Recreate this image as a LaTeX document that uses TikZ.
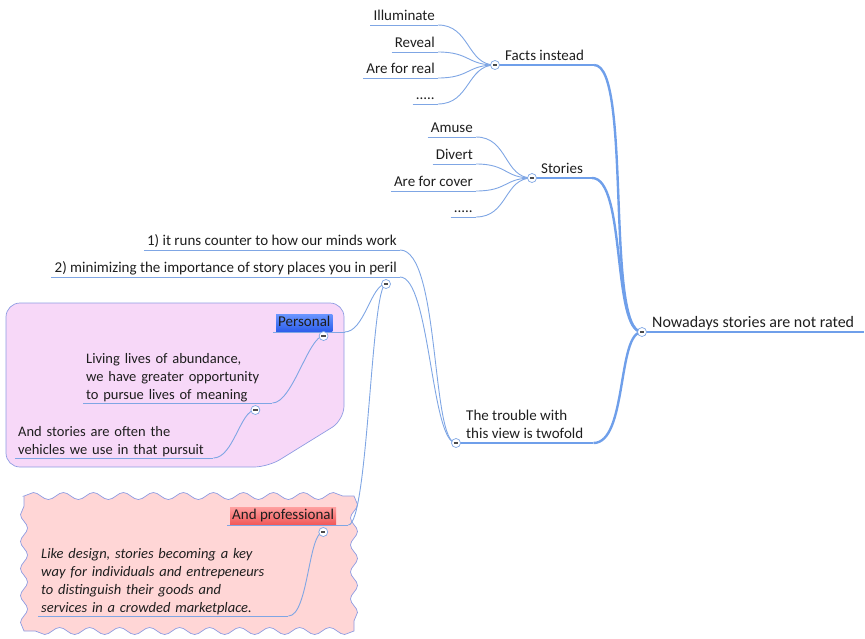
\documentclass[tikz,border=0pt]{standalone}
\usepackage{fontspec}
\setmainfont{Carlito}
\usetikzlibrary{decorations.pathmorphing}
\definecolor{branch}{HTML}{6F9FEA}
\definecolor{twig}{HTML}{7FA6E4}
\definecolor{ink}{HTML}{1E1E1E}
\definecolor{lilac}{HTML}{F7D8F8}
\definecolor{rose}{HTML}{FFD6D6}
\definecolor{rim}{HTML}{8E9CE2}
\definecolor{hiblue}{HTML}{6A95FF}
\definecolor{lowblue}{HTML}{2A5CEA}
\definecolor{hired}{HTML}{FF9E9E}
\definecolor{lowred}{HTML}{F05858}
\newcommand{\foldmark}{\rule{4.4pt}{1.1pt}}
\hyphenpenalty=10000

\begin{document}
\begin{tikzpicture}[x=1pt, y=-1pt]
\tikzstyle{every node}=[text=ink, font=\fontsize{15}{18}\selectfont]
\tikzset{twigline/.style={draw=twig, line width=0.9pt}}
\tikzset{branchline/.style={draw=branch, line width=2.4pt}}
\tikzset{twiglink/.style={twigline, out=0, in=180}}
\tikzset{branchlink/.style={branchline, out=0, in=180}}
\tikzset{topic/.style={inner xsep=3pt, inner ysep=1pt, text depth=3pt, align=left,
  append after command={(\tikzlastnode.south west) edge [#1] (\tikzlastnode.south east)}},
  topic/.default=twigline}
\tikzset{note/.style={topic, anchor=south west, text depth={}, font=\fontsize{14.5}{18}\selectfont}}
\tikzset{fold/.style={circle, draw=twig, fill=white, line width=0.7pt, minimum size=9pt, inner sep=0pt, text=ink!80}}
\tikzset{wave/.style={decoration={snake, segment length=#1, amplitude=3.5pt}}}
\useasboundingbox (0,0) rectangle (865,638);
% boundaries
\draw [fill=lilac, draw=rim, line width=0.7pt, rounded corners=14pt] (6,303) -- (344,303) -- (344,420) -- (268,467) -- (6,467) -- cycle;
\draw [fill=rose, draw=rim, line width=0.7pt] decorate [wave=30pt] {(24,496) -- (354,496)} decorate [wave=27pt] {-- (354,631)} decorate [wave=30pt] {-- (24,631)} decorate [wave=27pt] {-- (24,496)} -- cycle;
% central topic and main branches
\node [topic=branchline, anchor=south west, inner xsep=10pt, font=\fontsize{16}{19}\selectfont] (ROOT) at (642,332) {Nowadays stories are not rated};
\node [topic=branchline, anchor=south west, inner xsep=10pt] (FACTS) at (495,65) {Facts instead};
\node [topic=branchline, anchor=south west, inner xsep=9pt] (STORIES) at (532,178) {Stories};
\node [topic=branchline, anchor=south west, inner xsep=10pt] (TROUBLE) at (456,443) {The trouble with\\this view is twofold};
% leaves
\node [topic, anchor=south east] (ILLUMINATE) at (438,25) {Illuminate};
\node [topic, anchor=south east] (REVEAL) at (438,52) {Reveal};
\node [topic, anchor=south east] (REAL) at (438,78) {Are for real};
\node [topic, anchor=south east] (FACTSMORE) at (438,104) {.....};
\node [topic, anchor=south east] (AMUSE) at (476,137) {Amuse};
\node [topic, anchor=south east] (DIVERT) at (476,164) {Divert};
\node [topic, anchor=south east] (COVER) at (476,191) {Are for cover};
\node [topic, anchor=south east] (STORIESMORE) at (476,217) {.....};
\node [topic, anchor=south east] (COUNTER) at (400,250) {1) it runs counter to how our minds work};
\node [topic, anchor=south east] (PERIL) at (400,277) {2) minimizing the importance of story places you in peril};
\node [anchor=south west, inner xsep=2pt, inner ysep=1.5pt, text height=11pt, text depth=3.5pt, top color=hiblue, bottom color=lowblue] (PERSONAL) at (276,332) {Personal};
\node [note, text width=183pt] (LIVING) at (83,403) {Living lives of abundance,\\we have greater opportunity\\to pursue lives of meaning};
\node [note, text width=192pt] (VEHICLES) at (15,458) {And stories are often the\\vehicles we use in that pursuit};
\node [anchor=south west, inner xsep=2pt, inner ysep=1.5pt, text height=11pt, text depth=3.5pt, top color=hired, bottom color=lowred] (PROFESSIONAL) at (230,525) {And professional};
\node [note, text width=244pt, font=\fontsize{14.5}{18}\selectfont\itshape] (DESIGN) at (38,616) {Like design, stories becoming a key\\way for individuals and entrepeneurs\\to distinguish their goods and\\services in a crowded marketplace.};
\draw [twigline] ([xshift=-3pt]PERSONAL.south west) -- ([xshift=12pt]PERSONAL.south east);
\draw [twigline] ([xshift=-3pt]PROFESSIONAL.south west) -- ([xshift=12pt]PROFESSIONAL.south east);
\coordinate (PERILHUB) at ([xshift=-14pt,yshift=-7pt]PERIL.south east);
\coordinate (PERSONALHUB) at ([xshift=-9pt,yshift=-4pt]PERSONAL.south east);
\coordinate (LIVINGHUB) at ([xshift=-17pt,yshift=-7pt]LIVING.south east);
\coordinate (PROFHUB) at ([xshift=-13pt,yshift=-7pt]PROFESSIONAL.south east);
% connectors
\path (FACTS.south east) edge [branchlink, out distance=38pt, in distance=37pt] (ROOT.south west);
\path (STORIES.south east) edge [branchlink, out distance=34pt, in distance=30pt] (ROOT.south west);
\path (TROUBLE.south east) edge [branchlink, out distance=34pt, in distance=25pt] (ROOT.south west);
\path (ILLUMINATE.south east) edge [twiglink, out distance=32pt, in distance=28pt] (FACTS.south west);
\path (REVEAL.south east) edge [twiglink, out distance=32pt, in distance=28pt] (FACTS.south west);
\path (REAL.south east) edge [twiglink, out distance=32pt, in distance=28pt] (FACTS.south west);
\path (FACTSMORE.south east) edge [twiglink, out distance=32pt, in distance=28pt] (FACTS.south west);
\path (AMUSE.south east) edge [twiglink, out distance=32pt, in distance=28pt] (STORIES.south west);
\path (DIVERT.south east) edge [twiglink, out distance=32pt, in distance=28pt] (STORIES.south west);
\path (COVER.south east) edge [twiglink, out distance=32pt, in distance=28pt] (STORIES.south west);
\path (STORIESMORE.south east) edge [twiglink, out distance=32pt, in distance=28pt] (STORIES.south west);
\path (COUNTER.south east) edge [twiglink, out distance=40pt, in distance=25pt] (TROUBLE.south west);
\path (PERIL.south east) edge [twiglink, out distance=30pt, in distance=25pt] (TROUBLE.south west);
\path ([xshift=12pt]PERSONAL.south east) edge [twiglink, out distance=20pt, in distance=15pt] (PERILHUB);
\path ([xshift=12pt]PROFESSIONAL.south east) edge [twiglink, out distance=20pt, in distance=15pt] (PERILHUB);
\path (LIVING.south east) edge [twiglink, out distance=20pt, in distance=15pt] (PERSONALHUB);
\path (VEHICLES.south east) edge [twiglink, out distance=20pt, in distance=15pt] (LIVINGHUB);
\path (DESIGN.south east) edge [twiglink, out distance=20pt, in distance=15pt] (PROFHUB);
% collapse markers
\node [fold] (ROOTFOLD) at (ROOT.south west) {\foldmark};
\node [fold] (FACTSFOLD) at (FACTS.south west) {\foldmark};
\node [fold] (STORIESFOLD) at (STORIES.south west) {\foldmark};
\node [fold] (TROUBLEFOLD) at (TROUBLE.south west) {\foldmark};
\node [fold] (PERILFOLD) at (PERILHUB) {\foldmark};
\node [fold] (PERSONALFOLD) at (PERSONALHUB) {\foldmark};
\node [fold] (LIVINGFOLD) at (LIVINGHUB) {\foldmark};
\node [fold] (PROFFOLD) at (PROFHUB) {\foldmark};
\end{tikzpicture}
\end{document}
